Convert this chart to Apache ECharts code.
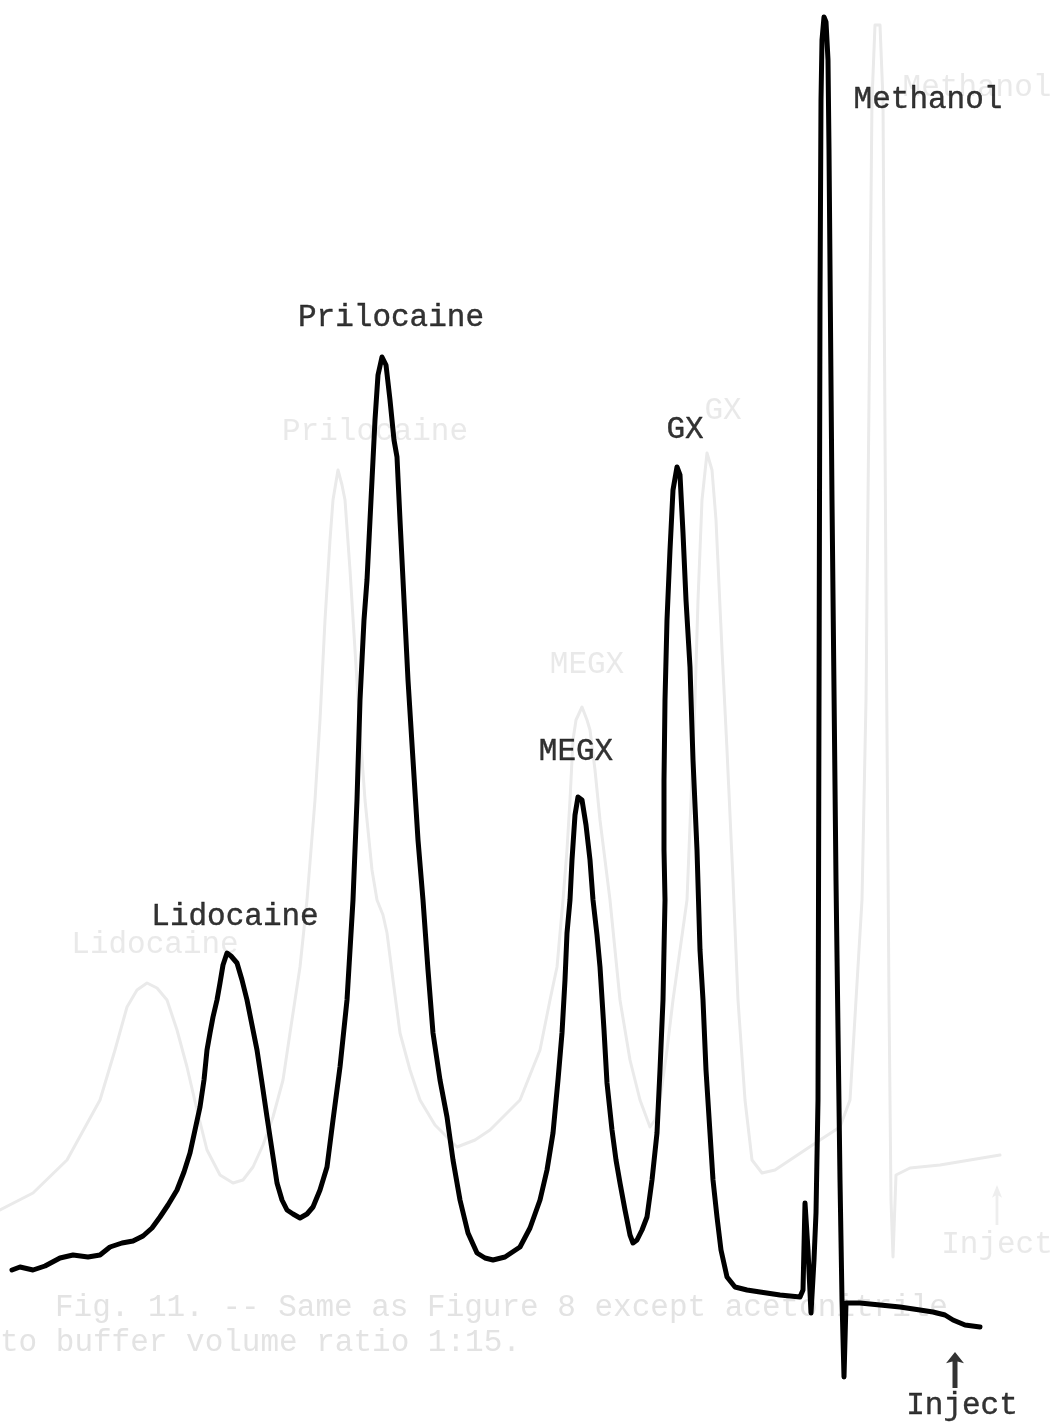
<!DOCTYPE html>
<html>
<head>
<meta charset="utf-8">
<script src="https://cdn.jsdelivr.net/npm/echarts@6/dist/echarts.min.js"></script>
<style>
html,body{margin:0;padding:0;background:#fff;}
#chart{width:1053px;height:1424px;}
</style>
</head>
<body>
<div id="chart"></div>
<script>
// ---- Main chromatogram trace (retention position, detector response) ----
const mainTime = [12,20,33,45,60,73,88,100,110,122,133,143,152,160,168,177,184,190,195,200,204,207,210,213,217,220,223,227,231,237,242,247,252,257,262,267,272,277,282,287,293,300,307,313,320,327,333,340,347,350,353,357,360,364,367,370,373,375,378,382,386,390,394,397,400,403,408,413,418,423,428,433,440,447,453,460,468,477,485,493,505,520,530,540,547,553,558,562,565,567,570,572,575,578,582,586,590,593,597,600,604,607,612,616,620,625,630,633,637,642,647,652,657,660,663,664,665,664,664,665,667,670,673,677,680,683,686,690,693,697,700,703,706,710,713,717,721,727,735,747,760,780,800,803,805,808,811,814,816,818,819,820,821,822,824,826,828,829,832,836,840,842,844,846,860,880,900,920,933,945,953,965,980];
const mainSignal = [30,33,30,34,42,45,43,45,53,57,59,64,72,83,95,110,128,147,170,193,220,250,267,283,300,317,335,347,344,337,320,300,275,250,217,183,150,117,100,90,86,82,86,93,110,133,180,233,300,350,400,500,600,680,720,780,840,880,925,943,935,900,860,843,780,720,620,540,460,400,330,267,220,183,140,100,67,47,42,40,43,53,72,100,130,167,220,267,320,367,400,440,485,503,500,475,440,400,365,333,270,217,170,140,117,90,65,57,60,70,83,120,167,230,300,350,400,450,520,600,680,750,810,833,825,767,700,633,540,450,350,300,230,167,120,83,50,23,13,10,8,5,3,10,97,50,-13,40,87,200,600,1000,1200,1260,1283,1278,1240,1150,800,420,120,0,-77,-3,-3,-5,-7,-10,-12,-15,-20,-25,-27];

// ---- Faint show-through trace from the facing page ----
const ghostTime = [0,33,67,100,115,127,137,147,157,167,177,187,197,207,220,233,243,253,263,273,283,290,295,300,307,315,320,325,330,333,338,342,345,350,355,360,365,372,377,383,387,393,400,410,420,435,457,475,490,505,520,530,540,550,557,563,567,570,573,576,582,587,590,595,600,605,610,615,620,630,640,650,655,660,667,673,680,687,691,695,698,702,707,712,716,722,727,733,738,745,752,762,775,790,805,820,840,850,856,862,866,869,872,875,880,883,886,889,891,893,896,910,940,970,1000];
const ghostSignal = [90,107,140,200,250,293,310,317,312,300,270,233,190,150,125,117,120,133,155,183,220,267,300,333,400,500,580,680,760,800,830,815,800,730,650,570,500,430,400,385,367,320,267,230,200,175,153,160,170,185,200,225,250,300,333,400,450,500,560,580,593,580,570,530,480,440,400,350,300,240,200,173,180,200,250,300,350,400,500,600,700,800,847,830,780,650,550,420,300,200,140,127,130,140,150,160,173,200,300,400,600,900,1200,1275,1275,1200,700,300,100,43,125,132,135,140,145];

// ---- Peak labels ----
const peakNames   = ['Lidocaine','Prilocaine','MEGX','GX','Methanol'];
const peakTimes   = [227,382,578,677,824];
const peakSignals = [347,943,503,833,1283];

const ghostPeakTimes   = [147,338,582,707,877];
const ghostPeakSignals = [317,830,593,847,1275];

const injectLabel = 'Inject';
const injectTime = 955, injectSignal = -70;
const ghostInjectTime = 997, ghostInjectSignal = 95;

const captionLines = ['Fig. 11. -- Same as Figure 8 except acetonitrile','to buffer volume ratio 1:15.'];

// ---- styling (not data) ----
const FONT = '"Liberation Mono","DejaVu Sans Mono",monospace';
const FS = 31;
const GHOST = '#eaeaea';
const GHOST_TXT = '#e3e3e3';
const labelOffsets = {Lidocaine:[8,-36],Prilocaine:[9,-39],MEGX:[-2,-45],GX:[8,-37],Methanol:[104,83]};
const ghostOffsets = {Lidocaine:[8,-38],Prilocaine:[37,-38],MEGX:[5,-42],GX:[16,-42],Methanol:[100,63]};
const arrowPath = 'path://M9,0 L18,12 L11.5,10 L11.5,38 L6.5,38 L6.5,10 L0,12 Z';
const textStyle = {color:'#000',fontFamily:FONT,fontSize:FS,textBorderColor:'#000',textBorderWidth:0.4};

const zip = (a,b)=>a.map((v,i)=>[v,b[i]]);

const chart = echarts.init(document.getElementById('chart'), null, {renderer:'canvas'});
chart.setOption({
  animation:false,
  backgroundColor:'#ffffff',
  grid:{left:0,right:0,top:0,bottom:0},
  xAxis:{type:'value',min:0,max:1053,show:false},
  yAxis:{type:'value',min:-124,max:1300,show:false},
  series:[
    {
      name:'ghost', type:'line', data:zip(ghostTime,ghostSignal), showSymbol:false, symbol:'none',
      lineStyle:{color:GHOST,width:3,join:'round',cap:'round'}, z:1, silent:true
    },
    {
      name:'ghostLabels', type:'scatter', symbolSize:0, z:1, silent:true,
      data:peakNames.map((n,i)=>({name:n,value:[ghostPeakTimes[i],ghostPeakSignals[i]],
        label:{offset:ghostOffsets[n]}})),
      label:{show:true,position:'inside',formatter:'{b}',color:GHOST_TXT,fontFamily:FONT,fontSize:FS}
    },
    {
      name:'ghostInject', type:'scatter', symbol:arrowPath, symbolSize:[10,40], z:1, silent:true,
      itemStyle:{color:GHOST},
      data:[{name:injectLabel,value:[ghostInjectTime,ghostInjectSignal]}],
      label:{show:true,position:'inside',offset:[0,40],formatter:'{b}',color:GHOST_TXT,fontFamily:FONT,fontSize:FS}
    },
    {
      name:'chromatogram', type:'line', data:zip(mainTime,mainSignal), showSymbol:false, symbol:'none',
      lineStyle:{color:'#000',width:5,join:'round',cap:'round'}, z:5
    },
    {
      name:'peakLabels', type:'scatter', symbolSize:0, z:6,
      data:peakNames.map((n,i)=>({name:n,value:[peakTimes[i],peakSignals[i]],
        label:{offset:labelOffsets[n]}})),
      label:Object.assign({show:true,position:'inside',formatter:'{b}'},textStyle)
    },
    {
      name:'inject', type:'scatter', symbol:arrowPath, symbolSize:[18,36], z:6,
      itemStyle:{color:'#000'},
      data:[{name:injectLabel,value:[injectTime,injectSignal]}],
      label:Object.assign({show:true,position:'inside',offset:[7,36],formatter:'{b}'},textStyle)
    }
  ],
  graphic:[
    {type:'text',left:55,top:1292,z:0,silent:true,style:{text:captionLines[0],fill:GHOST_TXT,font:FS+'px '+FONT}},
    {type:'text',left:0,top:1327,z:0,silent:true,style:{text:captionLines[1],fill:GHOST_TXT,font:FS+'px '+FONT}}
  ]
});
</script>
</body>
</html>
